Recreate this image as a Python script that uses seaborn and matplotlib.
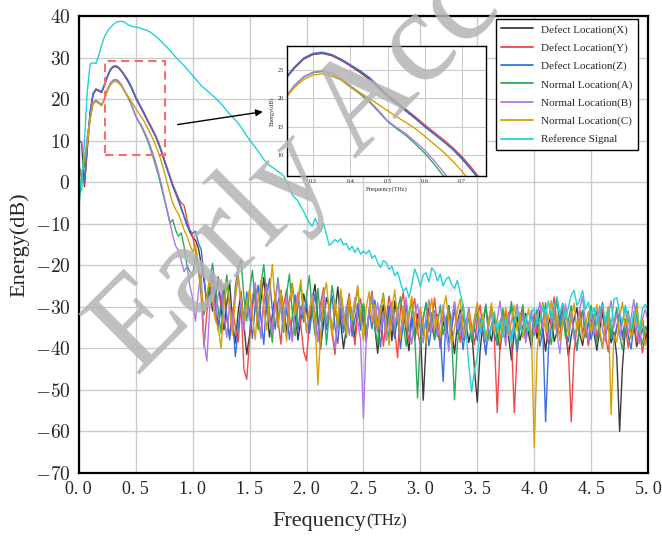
import numpy as np
import pandas as pd
import seaborn as sns
import matplotlib.pyplot as plt
import matplotlib.patches as patches

# frequency grid (THz), 0.025 THz step
freq = np.linspace(0, 5, 201)

# spectra (dB), rows of 0.5 THz
defect_x = [
    10.0, 9.5, -1.0, 8.0, 16.5, 21.0, 22.3, 22.0, 21.6, 23.3, 25.3, 26.9, 27.7, 27.9, 27.5, 26.7, 25.7, 24.6, 23.4, 21.9,
    20.3, 19.0, 17.7, 16.4, 15.0, 13.7, 12.4, 11.0, 9.3, 7.4, 5.3, 3.2, 1.2, -0.9, -2.6, -4.4, -6.3, -8.2, -10.1, -12.0,
    -13.2, -14.0, -15.8, -19.5, -23.7, -28.9, -25.3, -31.0, -27.4, -22.8, -30.5, -35.6, -29.1, -24.0, -33.8, -38.7, -31.2, -26.4, -34.1, -41.5,
    -36.8, -29.0, -25.1, -33.5, -28.4, -22.9, -30.2, -37.3, -32.0, -27.1, -34.8, -26.3, -30.9, -36.1, -28.7, -24.4, -31.6, -38.0, -33.1, -26.9,
    -30.5, -35.8, -28.2, -24.6, -32.7, -39.4, -34.0, -27.8, -29.9, -36.5, -31.3, -25.2, -33.6, -40.1, -35.2, -28.5, -31.9, -37.8, -30.4, -34.7,
    -29.3, -36.4, -32.1, -27.0, -34.9, -41.2, -33.7, -29.5, -35.6, -31.0, -38.2, -28.6, -33.3, -37.5, -30.8, -35.9, -40.6, -32.4, -36.8, -31.7,
    -35.1, -52.5, -38.9, -30.3, -34.6, -37.7, -31.9, -39.8, -33.5, -36.2, -29.7, -35.4, -41.3, -34.0, -30.6, -37.9, -33.2, -38.6, -35.0, -45.0,
    -53.0, -40.5, -33.8, -30.0, -35.5, -38.3, -32.6, -36.9, -40.2, -34.4, -31.1, -37.2, -42.8, -35.7, -32.3, -38.1, -34.9, -31.6, -36.5, -39.9,
    -33.4, -37.6, -30.9, -35.2, -40.7, -34.3, -31.8, -38.4, -36.0, -32.5, -29.4, -35.8, -41.9, -37.1, -33.0, -30.2, -36.7, -39.3, -34.5, -38.8,
    -32.1, -36.3, -40.5, -35.4, -31.3, -37.0, -33.9, -38.7, -36.1, -42.0, -60.0, -44.2, -35.6, -31.8, -37.4, -34.2, -39.6, -36.6, -32.8, -38.0,
    -35.5]
defect_y = [
    3.0, 1.5, -0.5, 9.0, 16.8, 21.2, 22.4, 22.1, 21.7, 23.4, 25.4, 27.0, 27.8, 28.0, 27.6, 26.8, 25.8, 24.8, 23.6, 22.1,
    20.6, 19.3, 18.0, 16.7, 15.3, 14.0, 12.7, 11.3, 9.7, 7.8, 5.7, 3.6, 1.6, -0.5, -2.1, -3.8, -5.0, -5.6, -8.9, -11.5,
    -13.0, -16.5, -20.5, -27.4, -39.7, -31.2, -26.5, -23.1, -30.6, -35.8, -28.3, -24.7, -32.9, -37.0, -30.4, -34.8, -38.5, -29.2, -45.0, -47.5,
    -38.0, -30.1, -26.2, -32.8, -36.9, -28.0, -24.5, -31.3, -35.7, -27.6, -33.1, -39.0, -29.4, -25.9, -32.2, -37.5, -30.7, -26.6, -34.3, -40.8,
    -43.0, -33.5, -27.3, -31.9, -38.2, -29.0, -25.4, -34.6, -30.2, -36.7, -41.5, -32.8, -27.9, -35.1, -30.5, -26.8, -33.7, -39.2, -31.0, -28.1,
    -34.4, -37.9, -30.6, -26.2, -32.5, -36.0, -29.8, -39.5, -33.1, -27.4, -31.8, -35.5, -42.3, -30.1, -26.5, -34.0, -38.4, -31.4, -28.0, -35.8,
    -39.2, -32.6, -29.3, -36.1, -33.4, -27.9, -34.8, -40.0, -31.2, -37.3, -30.7, -35.2, -28.8, -33.9, -38.5, -32.0, -36.6, -30.3, -34.7, -39.1,
    -33.0, -29.6, -36.4, -41.2, -34.1, -30.8, -37.6, -55.5, -39.0, -32.7, -35.9, -31.4, -37.8, -55.5, -40.3, -33.6, -30.2, -36.8, -34.0, -38.6,
    -31.5, -36.2, -33.3, -29.0, -35.7, -38.9, -32.4, -27.6, -34.2, -37.0, -31.0, -35.9, -40.4, -57.7, -41.0, -34.6, -30.5, -36.3, -33.8, -39.4,
    -35.1, -31.7, -37.5, -34.0, -29.8, -36.7, -40.9, -33.2, -38.3, -35.0, -31.2, -37.9, -34.5, -39.8, -36.0, -32.3, -38.6, -35.4, -41.1, -36.9,
    -34.0]
defect_z = [
    4.0, 2.0, 0.5, 9.5, 17.0, 21.4, 22.5, 22.2, 21.8, 23.5, 25.5, 27.1, 27.9, 28.1, 27.7, 26.9, 25.9, 24.9, 23.7, 22.2,
    20.4, 19.1, 17.8, 16.5, 15.0, 13.7, 12.4, 11.0, 9.4, 7.4, 5.4, 3.3, 1.3, -0.8, -2.4, -4.2, -6.1, -8.3, -10.5, -11.6,
    -12.3, -11.8, -14.6, -16.2, -22.5, -30.4, -26.8, -21.9, -28.3, -34.7, -30.1, -25.6, -32.4, -38.0, -31.8, -42.0, -35.3, -28.7, -33.9, -26.4,
    -31.2, -37.6, -29.5, -24.8, -33.0, -39.1, -27.7, -23.2, -30.8, -35.4, -28.9, -26.0, -34.5, -30.3, -37.9, -32.6, -27.1, -35.8, -29.9, -33.7,
    -28.5, -36.4, -31.0, -26.9, -33.8, -40.2, -29.6, -35.5, -31.7, -27.3, -34.9, -38.8, -30.4, -36.2, -32.3, -28.6, -37.1, -33.0, -29.2, -35.6,
    -32.0, -38.5, -30.9, -35.3, -28.4, -33.6, -39.7, -31.5, -36.8, -29.7, -34.2, -37.6, -31.9, -40.1, -33.8, -29.3, -36.0, -32.7, -38.0, -34.1,
    -30.6, -36.9, -33.1, -39.4, -34.5, -31.0, -37.2, -36.3, -48.0, -32.4, -38.7, -35.0, -30.5, -36.6, -33.5, -40.3, -34.8, -31.6, -37.7, -35.2,
    -38.1, -32.9, -35.8, -41.6, -33.6, -30.1, -36.5, -39.3, -34.0, -31.2, -37.4, -33.3, -29.9, -36.0, -40.8, -35.1, -31.7, -38.2, -34.3, -32.0,
    -36.8, -33.2, -39.5, -35.4, -57.7, -40.1, -34.9, -31.3, -37.0, -33.6, -29.2, -35.8, -38.4, -32.1, -36.4, -40.6, -34.0, -30.8, -37.3, -33.9,
    -37.9, -34.2, -31.0, -36.6, -39.9, -33.4, -30.3, -35.7, -38.6, -34.8, -31.5, -37.1, -33.0, -36.9, -40.2, -34.6, -31.9, -37.8, -35.3, -39.0,
    -37.5]
normal_a = [
    -6.5, 2.0, 4.0, 10.5, 15.5, 19.0, 19.6, 19.2, 18.6, 20.0, 22.2, 23.7, 24.5, 24.7, 24.3, 23.3, 22.0, 20.8, 19.4, 17.7,
    15.9, 14.6, 13.4, 11.9, 10.3, 8.4, 6.3, 4.0, 1.6, -1.2, -4.0, -6.8, -9.8, -9.0, -11.5, -13.0, -12.2, -15.5, -20.0, -21.5,
    -22.5, -17.8, -20.6, -26.3, -32.0, -28.1, -23.9, -19.5, -25.7, -30.8, -36.4, -27.2, -22.3, -29.6, -34.1, -25.0, -20.8, -18.5, -27.7, -33.4,
    -26.1, -21.2, -29.0, -35.5, -24.7, -19.8, -27.5, -32.9, -38.6, -28.3, -23.0, -30.7, -36.2, -26.9, -22.1, -31.4, -37.0, -29.1, -24.3, -33.2,
    -27.4, -22.5, -30.9, -36.8, -25.6, -33.3, -28.0, -39.2, -31.5, -24.9, -29.7, -35.0, -26.3, -32.6, -37.4, -28.8, -34.3, -30.0, -25.5, -33.9,
    -29.2, -36.1, -31.3, -27.1, -34.8, -38.9, -30.4, -26.7, -33.0, -37.7, -29.9, -35.4, -31.1, -27.6, -34.1, -39.5, -32.2, -28.5, -36.3, -52.0,
    -37.5, -33.0, -28.9, -35.2, -31.4, -38.0, -34.4, -29.6, -36.7, -33.1, -30.0, -37.3, -52.4, -39.0, -33.7, -29.4, -35.9, -32.5, -38.4, -34.8,
    -31.0, -36.2, -33.5, -29.3, -37.8, -34.6, -31.2, -38.9, -35.3, -30.4, -36.6, -33.2, -28.7, -35.0, -39.7, -32.8, -29.5, -36.1, -33.9, -38.3,
    -34.2, -30.6, -37.0, -33.4, -29.0, -35.7, -39.1, -32.3, -28.4, -34.9, -31.6, -37.5, -33.1, -29.7, -36.2, -40.0, -34.0, -30.9, -37.2, -33.5,
    -29.6, -35.3, -38.7, -32.4, -28.9, -34.6, -31.3, -37.6, -33.8, -30.2, -36.9, -40.4, -34.1, -31.0, -37.0, -33.3, -29.1, -35.8, -39.2, -34.7,
    -36.0]
normal_b = [
    10.0, 9.8, 5.0, 11.0, 15.5, 19.2, 19.8, 19.3, 18.7, 20.1, 22.3, 23.8, 24.6, 24.8, 24.4, 23.5, 22.2, 21.0, 19.6, 17.9,
    16.0, 14.8, 13.7, 12.3, 10.8, 9.0, 7.0, 4.8, 2.4, -0.4, -3.5, -6.5, -9.5, -12.8, -15.3, -16.4, -19.0, -21.5, -20.3, -24.8,
    -28.0, -33.5, -26.4, -21.8, -38.6, -43.1, -30.2, -25.4, -32.8, -27.0, -23.5, -31.9, -37.4, -29.1, -34.6, -26.2, -22.0, -30.5, -35.9, -28.3,
    -33.4, -27.5, -24.2, -31.8, -37.7, -29.6, -25.1, -32.3, -36.5, -28.7, -23.9, -30.6, -35.2, -27.3, -33.8, -38.4, -30.9, -26.5, -32.0, -29.4,
    -36.3, -31.2, -27.0, -33.7, -38.5, -30.3, -26.1, -34.0, -29.8, -35.7, -40.0, -32.1, -28.4, -34.5, -30.0, -36.9, -32.7, -27.8, -33.3, -38.0,
    -56.8, -37.4, -30.8, -27.2, -33.5, -29.0, -35.9, -31.6, -38.1, -33.0, -28.8, -34.7, -30.3, -36.4, -32.9, -27.7, -34.3, -39.0, -31.8, -29.3,
    -34.9, -38.7, -32.2, -28.3, -35.6, -31.4, -37.1, -33.7, -29.6, -36.0, -40.7, -32.8, -28.9, -35.4, -31.5, -37.6, -34.0, -30.2, -36.8, -33.1,
    -29.7, -35.8, -32.3, -38.5, -34.6, -30.9, -36.3, -33.0, -28.6, -34.8, -39.4, -31.7, -37.2, -33.4, -29.4, -35.5, -32.1, -38.7, -34.4, -30.8,
    -36.5, -32.6, -28.9, -35.1, -31.8, -37.7, -33.9, -30.0, -36.4, -41.3, -32.9, -29.3, -35.6, -31.2, -37.9, -34.5, -30.4, -27.6, -33.7, -38.2,
    -31.4, -36.7, -33.2, -29.8, -35.9, -38.4, -32.0, -28.5, -34.9, -31.6, -37.3, -33.7, -30.1, -36.5, -32.8, -28.2, -35.4, -38.9, -33.0, -30.6,
    -33.5]
normal_c = [
    3.0, 2.0, 6.0, 9.0, 15.0, 18.9, 19.4, 19.0, 18.4, 19.9, 21.9, 23.3, 24.1, 24.3, 23.9, 23.2, 22.0, 21.0, 20.0, 18.9,
    17.8, 16.7, 15.7, 14.6, 13.3, 11.9, 10.5, 8.9, 7.1, 5.0, 2.6, 0.0, -2.6, -5.0, -6.5, -7.6, -9.5, -11.5, -13.0, -15.0,
    -16.8, -15.1, -19.6, -25.2, -31.0, -27.3, -22.7, -28.9, -33.3, -35.0, -40.0, -29.8, -24.5, -30.6, -36.8, -28.0, -22.9, -27.6, -33.5, -29.2,
    -25.8, -32.4, -37.9, -28.2, -23.6, -30.1, -35.6, -27.0, -19.8, -29.5, -34.8, -26.1, -31.7, -38.3, -29.0, -24.7, -32.0, -27.9, -23.5, -30.8,
    -35.4, -31.0, -27.8, -33.2, -48.8, -36.2, -27.4, -24.2, -31.5, -37.0, -28.6, -34.2, -25.7, -30.9, -36.4, -27.5, -33.1, -29.2, -24.8, -32.5,
    -38.1, -30.1, -26.4, -33.8, -29.5, -35.2, -31.0, -27.1, -34.6, -39.3, -30.4, -26.0, -32.9, -37.6, -29.7, -35.0, -31.2, -27.4, -33.8, -36.7,
    -30.2, -34.4, -38.8, -31.9, -28.0, -35.5, -32.2, -37.4, -30.5, -27.3, -33.6, -39.0, -35.1, -30.9, -28.1, -34.7, -37.8, -31.3, -36.2, -32.6,
    -28.9, -35.2, -31.6, -37.9, -33.1, -29.0, -36.4, -32.8, -38.6, -34.3, -30.2, -36.9, -33.4, -29.6, -35.8, -31.2, -37.5, -33.9, -30.5, -36.1,
    -64.0, -41.2, -33.5, -29.4, -36.0, -32.7, -28.5, -35.3, -31.9, -38.2, -34.0, -30.6, -36.7, -33.2, -29.1, -35.9, -32.4, -38.0, -34.8, -31.1,
    -36.2, -32.9, -29.5, -35.6, -39.7, -33.3, -30.0, -56.0, -36.8, -38.5, -32.5, -28.9, -35.1, -31.8, -37.7, -34.4, -30.3, -36.5, -33.1, -39.4,
    -37.0]
reference = [
    1.0, -2.0, 10.0, 22.0, 28.5, 28.8, 28.6, 30.5, 33.0, 35.0, 36.3, 37.2, 37.9, 38.5, 38.7, 38.8, 38.6, 38.1, 37.7, 37.5,
    37.4, 37.3, 37.0, 36.8, 36.6, 36.2, 35.7, 35.2, 34.6, 33.9, 33.2, 32.5, 31.8, 31.0, 30.2, 29.5, 28.8, 28.1, 27.3, 26.5,
    25.7, 24.9, 24.1, 23.3, 22.7, 22.1, 21.5, 20.9, 20.3, 19.6, 18.9, 18.1, 17.2, 16.5, 15.7, 15.0, 14.2, 13.3, 12.3, 11.2,
    10.2, 9.3, 8.4, 7.5, 6.5, 5.5, 4.7, 4.1, 3.6, 3.1, 2.6, 2.2, 1.5, 0.2, -1.4, -3.0, -3.8, -4.5, -5.8, -7.0,
    -8.5, -9.8, -10.6, -8.7, -10.2, -11.8, -9.9, -12.5, -15.2, -14.6, -13.8, -14.4, -13.6, -15.1, -14.7, -16.3, -15.4, -16.9, -15.8, -17.3,
    -16.6, -17.2, -16.4, -18.3, -17.6, -19.4, -20.5, -18.9, -19.3, -21.0, -20.2, -22.5, -21.6, -24.1, -26.3, -25.4, -27.8, -24.6, -20.9, -22.7,
    -25.1, -22.3, -21.8, -24.0, -20.6, -21.5, -23.8, -22.1, -25.0, -23.4, -22.8, -24.7, -25.6, -23.6, -26.8, -29.5, -35.2, -44.0, -50.5, -45.3,
    -41.8, -36.4, -33.0, -37.6, -38.2, -34.1, -31.5, -35.9, -33.2, -37.4, -32.6, -35.0, -38.8, -33.7, -30.9, -34.6, -36.3, -32.2, -35.7, -31.5,
    -30.4, -34.1, -33.5, -29.8, -31.7, -28.6, -32.9, -30.2, -27.6, -31.8, -29.4, -33.0, -30.1, -27.2, -26.0, -29.7, -28.4, -26.1, -30.6, -28.9,
    -32.4, -30.3, -34.6, -31.2, -29.5, -33.8, -30.7, -35.1, -28.2, -27.8, -31.5, -34.0, -29.6, -32.7, -35.3, -31.1, -33.4, -36.2, -30.5, -29.4,
    -30.8]

names = ["Defect Location(X)", "Defect Location(Y)", "Defect Location(Z)",
         "Normal Location(A)", "Normal Location(B)", "Normal Location(C)",
         "Reference Signal"]
colors = ["#3a3a3a", "#f24848", "#3a6fe0", "#2eaa5e", "#b07ae6", "#d8a000", "#22d0d6"]
series = [defect_x, defect_y, defect_z, normal_a, normal_b, normal_c, reference]

y_ticks = list(range(-70, 41, 10))
x_ticks = [0.0, 0.5, 1.0, 1.5, 2.0, 2.5, 3.0, 3.5, 4.0, 4.5, 5.0]

for s in series:
    assert len(s) == len(freq)

df = pd.DataFrame({
    "freq": np.tile(freq, len(series)),
    "energy": np.concatenate(series),
    "series": np.repeat(names, len(freq)),
})

sns.set_style("white")
plt.rcParams["font.family"] = ["Liberation Serif", "DejaVu Serif"]
plt.rcParams["mathtext.fontset"] = "cm"

fig = plt.figure(figsize=(6.62, 5.41), dpi=100)
ax = fig.add_axes([0.119, 0.126, 0.860, 0.844])

sns.lineplot(data=df, x="freq", y="energy", hue="series", hue_order=names,
             palette=colors, estimator=None, sort=False, lw=1.0, ax=ax)

ax.set_xlim(0, 5)
ax.set_ylim(-70, 40)
ax.set_xticks(x_ticks)
ax.set_xticklabels([f"{v:.1f}".replace(".", ". ") for v in x_ticks], fontsize=13)
ax.set_yticks(y_ticks)
ax.set_yticklabels([rf"${v}$" for v in y_ticks], fontsize=14)
ax.grid(True, color="#cccccc", lw=1)
ax.tick_params(direction="in", length=6, width=1.5, top=False, right=False, pad=6)
for sp in ax.spines.values():
    sp.set_linewidth(1.6)
    sp.set_color("black")
ax.set_xlabel("")
ax.set_ylabel("Energy(dB)", fontsize=16, labelpad=4)
fig.text(0.553, 0.028, "Frequency", fontsize=16, ha="right", va="baseline")
fig.text(0.553, 0.028, "(THz)", fontsize=12, ha="left", va="baseline")

# legend
handles, labels = ax.get_legend_handles_labels()
for h in handles:
    h.set_linewidth(1.3)
leg = ax.legend(handles, labels, loc="upper right", bbox_to_anchor=(0.983, 0.994),
                borderaxespad=0, fancybox=False, framealpha=1, edgecolor="black",
                fontsize=8, handlelength=2.8, labelspacing=0.75, borderpad=0.5)
leg.get_frame().set_linewidth(1.0)

# zoom box and arrow
ax.add_patch(patches.Rectangle((0.23, 6.5), 0.53, 22.7, fill=False,
                               edgecolor="#ff6b6b", lw=1.5, ls=(0, (4, 2.5)), zorder=5))
ax.annotate("", xy=(1.64, 17.1), xytext=(0.844, 13.8),
            arrowprops=dict(arrowstyle="-|>", color="black", lw=1, mutation_scale=10), zorder=6)

# inset
axin = fig.add_axes([0.4335, 0.6747, 0.3006, 0.2403])
sns.lineplot(data=df, x="freq", y="energy", hue="series", hue_order=names,
             palette=colors, estimator=None, sort=False, lw=1.0, ax=axin, legend=False)
axin.set_xlim(0.23, 0.764)
axin.set_ylim(6.3, 29.2)
axin.set_xticks([0.3, 0.4, 0.5, 0.6, 0.7])
axin.set_yticks([10, 15, 20, 25])
axin.grid(True, color="#cccccc", lw=0.8)
axin.tick_params(direction="in", length=2.5, width=0.8, labelsize=4.5, pad=2)
for sp in axin.spines.values():
    sp.set_linewidth(1.0)
    sp.set_color("black")
axin.set_xlabel("Frequency(THz)", fontsize=4.5, labelpad=2)
axin.set_ylabel("Energy(dB)", fontsize=4.5, labelpad=2)

# watermark
fig.text(137 / 662, 1 - 377 / 541, "Early Access", fontsize=94, rotation=45,
         rotation_mode="anchor", ha="left", va="baseline", color="#b4b4b4",
         alpha=0.85, zorder=20)

fig.savefig("out.png", dpi=100)
